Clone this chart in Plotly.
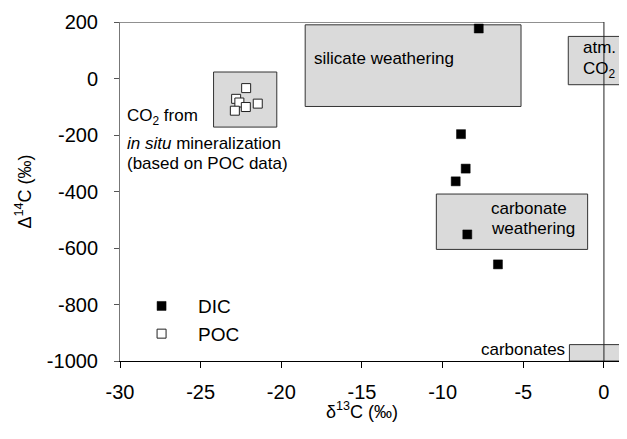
import plotly.graph_objects as go

# Data
dic_d13c = [-7.76, -8.86, -8.57, -9.19, -8.47, -6.57]
dic_d14c = [177, -197, -319, -364, -552, -658]
poc_d13c = [-22.18, -21.46, -22.8, -22.6, -22.2, -22.88]
poc_d14c = [-34, -89, -72, -85, -101, -114]

x_ticks = [-30, -25, -20, -15, -10, -5, 0]
y_ticks = [-1000, -800, -600, -400, -200, 0, 200]

# source boxes: (x0, x1, y0, y1)
boxes = {
    "poc": (-24.2, -20.28, -172, 23),
    "silicate": (-18.52, -5.14, -99, 190),
    "atm": (-2.21, 3.0, -22, 149),
    "carb_weath": (-10.39, -1.01, -605, -409),
    "carbonates": (-2.14, 3.0, -1000, -942),
}

FONT = "Liberation Sans, Arial, sans-serif"
fig = go.Figure()

shapes = []
for k, (x0, x1, y0, y1) in boxes.items():
    shapes.append(dict(type="rect", xref="x", yref="y", x0=x0, x1=x1, y0=y0, y1=y1,
                       fillcolor="#dadada", line=dict(color="#333333", width=1), layer="below"))
# frame: top line and vertical line at 0
shapes.append(dict(type="line", xref="x", yref="y", x0=-30, x1=0, y0=200, y1=200,
                   line=dict(color="#222222", width=1)))
shapes.append(dict(type="line", xref="x", yref="y", x0=0, x1=0, y0=-1000, y1=200,
                   line=dict(color="#222222", width=1)))

fig.add_trace(go.Scatter(x=dic_d13c, y=dic_d14c, mode="markers", name="DIC",
                         marker=dict(symbol="square", size=9, color="black",
                                     line=dict(color="black", width=0.5))))
fig.add_trace(go.Scatter(x=poc_d13c, y=poc_d14c, mode="markers", name="POC",
                         marker=dict(symbol="square", size=9, color="white",
                                     line=dict(color="#222222", width=1))))

ann = []
def txt(x, y, t, size=17, xanchor="left", yanchor="middle"):
    ann.append(dict(x=x, y=y, xref="x", yref="y", text=t, showarrow=False,
                    xanchor=xanchor, yanchor=yanchor, font=dict(size=size, color="black", family=FONT)))

txt(-18.1, 72, "silicate weathering")
txt(-1.43, 110, "atm.")
txt(-1.43, 30, "CO<sub>2</sub>")
txt(-7.14, -460, "carbonate")
txt(-7.14, -530, "weathering")
txt(-2.29, -960, "carbonates", xanchor="right")
txt(-29.7, -135, "CO<sub>2</sub> from")
txt(-29.7, -230, "<i>in situ</i> mineralization")
txt(-29.7, -300, "(based on POC data)")

# x-axis title (paper coords; plot area is 507 x 339 px)
ann.append(dict(x=(362 - 120) / 507, y=-(410 - 361) / 339, xref="paper", yref="paper",
                text="δ<sup>13</sup>C (‰)", showarrow=False, yanchor="middle",
                font=dict(size=18, family=FONT, color="black")))
fig.update_layout(annotations=ann, shapes=shapes)

# page body has an 8px margin: shrink figure so the plot area lands where the reference has it
fig.update_layout(
    width=619, height=431,
    margin=dict(l=112, r=0, t=14, b=78),
    paper_bgcolor="white", plot_bgcolor="white",
    font=dict(family=FONT, size=20, color="black"),
    showlegend=True,
    legend=dict(x=0.01, y=0.218, xanchor="left", yanchor="top", itemwidth=63,
                font=dict(size=19), bgcolor="rgba(0,0,0,0)", tracegroupgap=0),
    xaxis=dict(range=[-30, 1.43], tickvals=x_ticks, ticktext=[str(v) for v in x_ticks],
               showline=True, linecolor="black", linewidth=1, ticks="outside", ticklen=6,
               tickcolor="black", showgrid=False, zeroline=False, ticklabelstandoff=7),
    yaxis=dict(range=[-1000, 200], tickvals=y_ticks, ticktext=[str(v) for v in y_ticks],
               showline=True, linecolor="#777777", linewidth=1, ticks="outside", ticklen=5,
               tickcolor="#555555", showgrid=False, zeroline=False, ticklabelstandoff=12,
               title=dict(text="Δ<sup>14</sup>C (‰)", font=dict(size=18), standoff=10)),
)

fig.write_html("out.html")
